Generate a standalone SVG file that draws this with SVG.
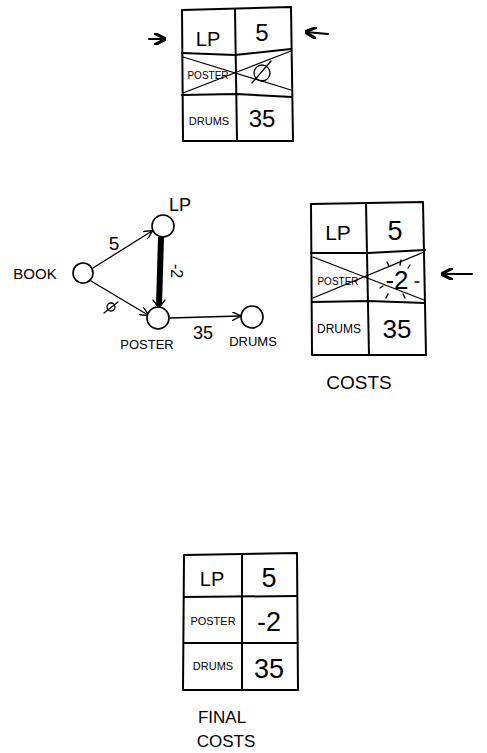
<svg xmlns="http://www.w3.org/2000/svg" width="487" height="753" viewBox="0 0 487 753">
<defs>
<style>
.ln{stroke:#000;stroke-width:2;fill:none;stroke-linecap:round;stroke-linejoin:round}
.thin{stroke:#000;stroke-width:1.3;fill:none;stroke-linecap:round}
.big{font-family:"Liberation Sans",Arial,sans-serif;font-size:24px;fill:#000;text-anchor:middle}
.sm{font-family:"Liberation Sans",Arial,sans-serif;font-size:11px;fill:#000;text-anchor:middle}
.lbl{font-family:"Liberation Sans",Arial,sans-serif;font-size:14px;fill:#000;text-anchor:middle}
.node{fill:#fff;stroke:#000;stroke-width:1.6}
</style>
<marker id="ah" viewBox="0 0 10 10" refX="9" refY="5" markerWidth="9" markerHeight="9" markerUnits="userSpaceOnUse" orient="auto"><path d="M0,0 L10,5 L0,10" fill="none" stroke="#000" stroke-width="1.5"/></marker>
<marker id="pt" viewBox="0 0 10 10" refX="9" refY="5" markerWidth="12" markerHeight="12" markerUnits="userSpaceOnUse" orient="auto"><path d="M0,0 L10,5 L0,10" fill="none" stroke="#000" stroke-width="2.6"/></marker>
</defs>
<rect width="487" height="753" fill="#fff"/>

<g id="table1">
<path class="ln" d="M182,10 L291,7 L293,141 L183,141 Z"/>
<path class="ln" d="M235,9 L237,141"/>
<path class="ln" d="M182,53 L235,55 L291,49"/>
<path class="ln" d="M182,95 L236,94 L292,97"/>
<path class="thin" d="M183,57 L291,90"/>
<path class="thin" d="M183,93 L291,51"/>
<text class="big" x="208" y="46" style="font-size:20px">LP</text>
<text class="big" x="262" y="41">5</text>
<text class="sm" x="208" y="79" style="font-size:10px">POSTER</text>
<circle class="thin" cx="262" cy="73" r="8"/>
<path class="thin" d="M252,83 L271,61"/>
<text class="sm" x="209" y="125" style="font-size:11px">DRUMS</text>
<text class="big" x="262" y="127">35</text>
</g>
<g id="arrows1">
<path class="ln" d="M149,39 L165,39" marker-end="url(#pt)" stroke-width="3"/>
<path class="ln" d="M328,34 L306,32" marker-end="url(#pt)" stroke-width="3"/>
</g>

<g id="connectors">
<path class="thin" d="M93,268 L152,231" marker-end="url(#ah)"/>
<path class="thin" d="M91,281 L148,315" marker-end="url(#ah)"/>
<path class="thin" d="M170,318 L240,316" marker-end="url(#ah)"/>
<path d="M161,237 L159,306" stroke="#000" stroke-width="6" fill="none"/>
<path class="thin" d="M153,300 L159,308 L165,300"/>
<text class="lbl" x="114" y="250" style="font-size:19px">5</text>
<circle class="thin" cx="111" cy="307" r="4"/>
<path class="thin" d="M104,313 L118,302"/>
<text class="lbl" x="203" y="339" style="font-size:18px">35</text>
<text class="lbl" transform="translate(171,271) rotate(90)" style="font-size:16px">-2</text>
</g>

<g id="node-book">
<circle class="node" cx="83" cy="273" r="10"/>
<text class="lbl" x="35" y="279" style="font-size:15px">BOOK</text>
</g>
<g id="node-lp">
<circle class="node" cx="163" cy="226" r="11"/>
<text class="lbl" x="180" y="211" style="font-size:18px">LP</text>
</g>
<g id="node-poster">
<circle class="node" cx="158" cy="318" r="11"/>
<text class="lbl" x="147" y="349" style="font-size:13px">POSTER</text>
</g>
<g id="node-drums">
<circle class="node" cx="252" cy="317" r="11"/>
<text class="lbl" x="253" y="346" style="font-size:13px">DRUMS</text>
</g>

<g id="table2">
<path class="ln" d="M311,204 L423,202 L426,355 L312,355 Z"/>
<path class="ln" d="M366,203 L369,355"/>
<path class="ln" d="M311,253 L368,253 L425,250"/>
<path class="ln" d="M312,302 L369,301 L425,303"/>
<path class="thin" d="M313,257 L424,300"/>
<path class="thin" d="M313,298 L424,252"/>
<text class="big" x="338" y="240" style="font-size:21px">LP</text>
<text class="big" x="395" y="240" style="font-size:27px">5</text>
<text class="sm" x="338" y="285" style="font-size:10px">POSTER</text>
<text class="big" x="397" y="289" style="font-size:26px">-2</text>
<path class="thin" d="M387,262 L389,266 M401,260 L400,265 M410,265 L408,268 M415,282 L419,282 M383,286 L380,288 M388,294 L386,298 M403,294 L405,298"/>
<text class="sm" x="339" y="333" style="font-size:12px">DRUMS</text>
<text class="big" x="397" y="338" style="font-size:26px">35</text>
<text class="lbl" x="359" y="389" style="font-size:19px">COSTS</text>
</g>
<g id="arrow2">
<path class="ln" d="M472,274 L442,274" marker-end="url(#pt)" stroke-width="3"/>
</g>

<g id="table3">
<path class="ln" d="M184,555 L297,553 L298,690 L183,690 Z"/>
<path class="ln" d="M242,554 L242,690"/>
<path class="ln" d="M184,597 L297,596"/>
<path class="ln" d="M184,643 L297,643"/>
<text class="big" x="212" y="586" style="font-size:20px">LP</text>
<text class="big" x="269" y="587" style="font-size:27px">5</text>
<text class="sm" x="213" y="625" style="font-size:11px">POSTER</text>
<text class="big" x="269" y="631" style="font-size:27px">-2</text>
<text class="sm" x="213" y="670" style="font-size:11px">DRUMS</text>
<text class="big" x="269" y="678" style="font-size:27px">35</text>
<text class="lbl" x="222" y="723" style="font-size:17px">FINAL</text>
<text class="lbl" x="226" y="747" style="font-size:17px">COSTS</text>
</g>
</svg>
